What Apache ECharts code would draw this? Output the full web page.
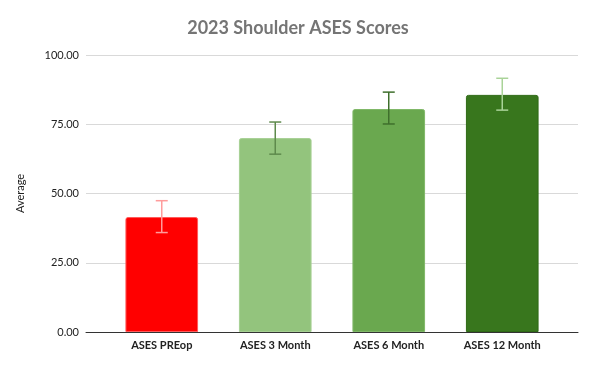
<!DOCTYPE html>
<html>
<head>
<meta charset="utf-8">
<script src="https://cdn.jsdelivr.net/npm/echarts@6/dist/echarts.min.js"></script>
<style>html,body{margin:0;padding:0;background:#fff;}#c{width:596px;height:366px;}</style>
</head>
<body>
<div id="c"></div>
<script>
const categories = ['ASES PREop', 'ASES 3 Month', 'ASES 6 Month', 'ASES 12 Month'];
const averages = [41.5, 70.0, 80.5, 85.6];
const errLow = [35.9, 64.2, 75.1, 80.1];
const errHigh = [47.4, 75.8, 86.6, 91.6];
const barColors = ['#FF0000', '#93C47D', '#6AA84F', '#38761D'];
const barBorders = ['#FF5A5A', '#A6D093', '#80B868', '#2F6A16'];
const errColors = ['#FF9C9C', '#5E8A4C', '#3F6F2C', '#A9D398'];
const yMin = 0, yMax = 100, yInterval = 25;

const chart = echarts.init(document.getElementById('c'));
chart.setOption({
  animation: false,
  backgroundColor: '#fff',
  title: {
    text: '2023 Shoulder ASES Scores',
    left: 'center',
    top: 14,
    textStyle: { fontFamily: 'Lato', fontWeight: 'bold', fontSize: 18, color: '#757575' }
  },
  grid: [
    { left: 86, right: 18, top: 55, bottom: 34 },
    { left: 105, right: 37, top: 55, bottom: 34 }
  ],
  xAxis: [
    { type: 'value', gridIndex: 0, min: 0, max: 1, axisLabel: { show: false }, axisTick: { show: false },
      splitLine: { show: false }, axisLine: { show: true, onZero: false, lineStyle: { color: '#333', width: 1 } } },
    { type: 'category', gridIndex: 1, data: categories, axisLine: { show: false }, axisTick: { show: false },
      axisLabel: { fontFamily: 'Lato', fontWeight: 'bold', fontSize: 11, color: '#222', margin: 8 } }
  ],
  yAxis: [
    { type: 'value', gridIndex: 0, min: yMin, max: yMax, interval: yInterval,
      name: 'Average', nameLocation: 'middle', nameGap: 60, nameRotate: 90,
      nameTextStyle: { fontFamily: 'Lato', fontSize: 11, color: '#222' },
      axisLabel: { formatter: v => v.toFixed(2), fontFamily: 'Lato', fontSize: 11, color: '#222', margin: 7 },
      axisLine: { show: false }, axisTick: { show: false },
      splitLine: { lineStyle: { color: '#d9d9d9', width: 1 } } },
    { type: 'value', gridIndex: 1, min: yMin, max: yMax, interval: yInterval, show: false, splitLine: { show: false } }
  ],
  series: [
    {
      type: 'bar', xAxisIndex: 1, yAxisIndex: 1, barWidth: '64%',
      data: averages.map((v, i) => ({ value: v, itemStyle: { color: barColors[i], borderColor: barBorders[i], borderWidth: 1, borderRadius: [2, 2, 0, 0] } })),
      z: 2
    },
    {
      type: 'custom', xAxisIndex: 1, yAxisIndex: 1, z: 5,
      data: categories.map((c, i) => [i, errLow[i], errHigh[i]]),
      renderItem: function (params, api) {
        const i = api.value(0);
        const lo = api.coord([i, api.value(1)]);
        const hi = api.coord([i, api.value(2)]);
        const hw = 6;
        const style = { stroke: errColors[i], lineWidth: 1.5, fill: null };
        return {
          type: 'group',
          children: [
            { type: 'line', shape: { x1: hi[0], y1: hi[1], x2: lo[0], y2: lo[1] }, style: style },
            { type: 'line', shape: { x1: hi[0] - hw, y1: hi[1], x2: hi[0] + hw, y2: hi[1] }, style: style },
            { type: 'line', shape: { x1: lo[0] - hw, y1: lo[1], x2: lo[0] + hw, y2: lo[1] }, style: style }
          ]
        };
      }
    }
  ]
});
</script>
</body>
</html>
